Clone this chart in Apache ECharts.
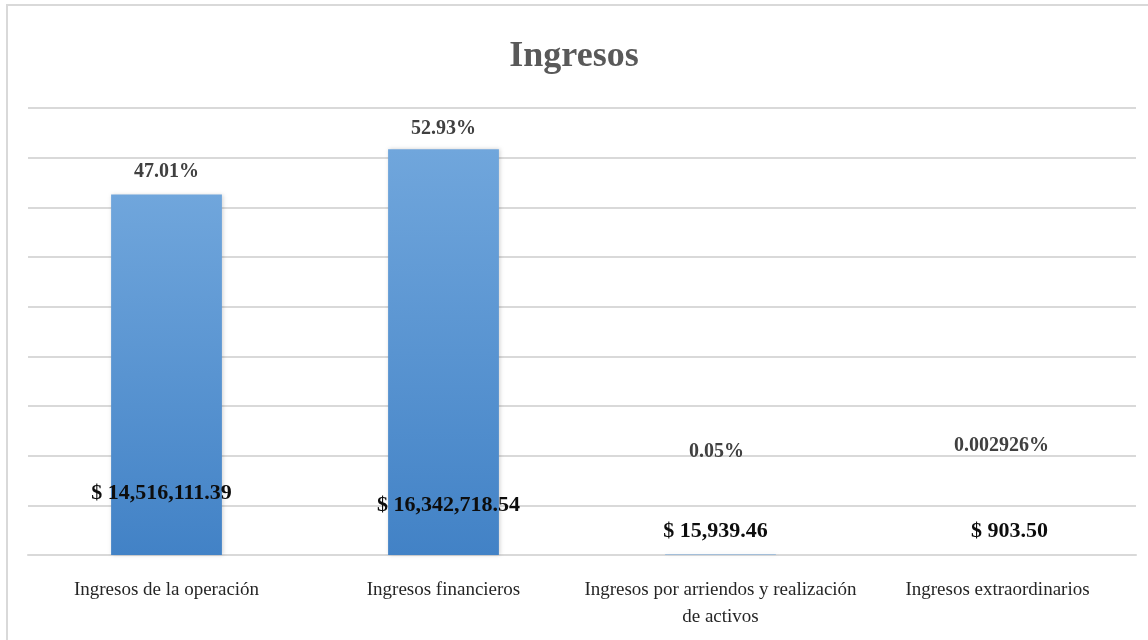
<!DOCTYPE html>
<html>
<head>
<meta charset="utf-8">
<script src="https://cdn.jsdelivr.net/npm/echarts@6/dist/echarts.min.js"></script>
<style>
    html, body { margin: 0; padding: 0; background: #fff; overflow: hidden; }
    #chart { width: 1148px; height: 640px; }
</style>
</head>
<body>
<div id="chart"></div>
<script>
var categorias = ['Ingresos de la operación', 'Ingresos financieros', 'Ingresos por arriendos y realización\nde activos', 'Ingresos extraordinarios'];
var montos = [14516111.39, 16342718.54, 15939.46, 903.50];
var porcentajes = ['47.01%', '52.93%', '0.05%', '0.002926%'];

var pctOffsets = [[0, -8], [0, -5], [-4, -88], [4, -94]];
var montoOffsets = [[-5, -46], [5, -34], [-5, -8], [12, -8]];

function formatMonto(v) {
    var parts = v.toFixed(2).split('.');
    parts[0] = parts[0].replace(/\B(?=(\d{3})+(?!\d))/g, ',');
    return '$ ' + parts.join('.');
}

var fuente = '"Liberation Serif", "Times New Roman", serif';

var chart = echarts.init(document.getElementById('chart'));

var datosPct = [];
var datosMonto = [];
for (var i in montos) {
    datosPct.push({
        value: montos[i],
        label: {offset: pctOffsets[i]}
    });
    datosMonto.push({
        value: montos[i],
        label: {offset: montoOffsets[i]}
    });
}

chart.setOption({
    animation: false,
    title: {
        text: 'Ingresos',
        left: 'center',
        top: 34,
        textStyle: {
            fontFamily: fuente,
            fontSize: 36,
            fontWeight: 'bold',
            color: '#595959'
        }
    },
    graphic: [{
        type: 'rect',
        shape: {x: 7, y: 5, width: 1160, height: 660},
        style: {fill: 'none', stroke: '#d9d9d9', lineWidth: 2},
        silent: true
    }],
    grid: {
        left: 28,
        right: 12,
        top: 108,
        bottom: 85
    },
    xAxis: {
        type: 'category',
        data: categorias,
        axisTick: {show: false},
        axisLine: {lineStyle: {color: '#d9d9d9', width: 2}},
        axisLabel: {
            interval: 0,
            margin: 22,
            fontFamily: fuente,
            fontSize: 19,
            lineHeight: 27,
            color: '#262626'
        }
    },
    yAxis: {
        type: 'value',
        min: 0,
        max: 18000000,
        interval: 2000000,
        axisLabel: {show: false},
        axisLine: {show: false},
        axisTick: {show: false},
        splitLine: {lineStyle: {color: '#d9d9d9', width: 2}}
    },
    series: [{
        name: 'porcentaje',
        type: 'bar',
        barWidth: '40%',
        data: datosPct,
        itemStyle: {
            color: new echarts.graphic.LinearGradient(0, 0, 0, 1, [
                {offset: 0, color: '#70a6dc'},
                {offset: 1, color: '#4282c6'}
            ]),
            shadowColor: 'rgba(0, 0, 0, 0.18)',
            shadowBlur: 4,
            shadowOffsetX: 1
        },
        label: {
            show: true,
            position: 'top',
            distance: 5,
            fontFamily: fuente,
            fontSize: 20,
            fontWeight: 'bold',
            color: '#404040',
            formatter: function(p) {
                return porcentajes[p.dataIndex];
            }
        }
    }, {
        name: 'monto',
        type: 'bar',
        barWidth: '40%',
        barGap: '-100%',
        data: datosMonto,
        itemStyle: {color: 'rgba(0,0,0,0)'},
        label: {
            show: true,
            position: 'insideBottom',
            distance: 5,
            fontFamily: fuente,
            fontSize: 22,
            fontWeight: 'bold',
            color: '#0d0d0d',
            formatter: function(p) {
                return formatMonto(montos[p.dataIndex]);
            }
        }
    }]
});
</script>
</body>
</html>
